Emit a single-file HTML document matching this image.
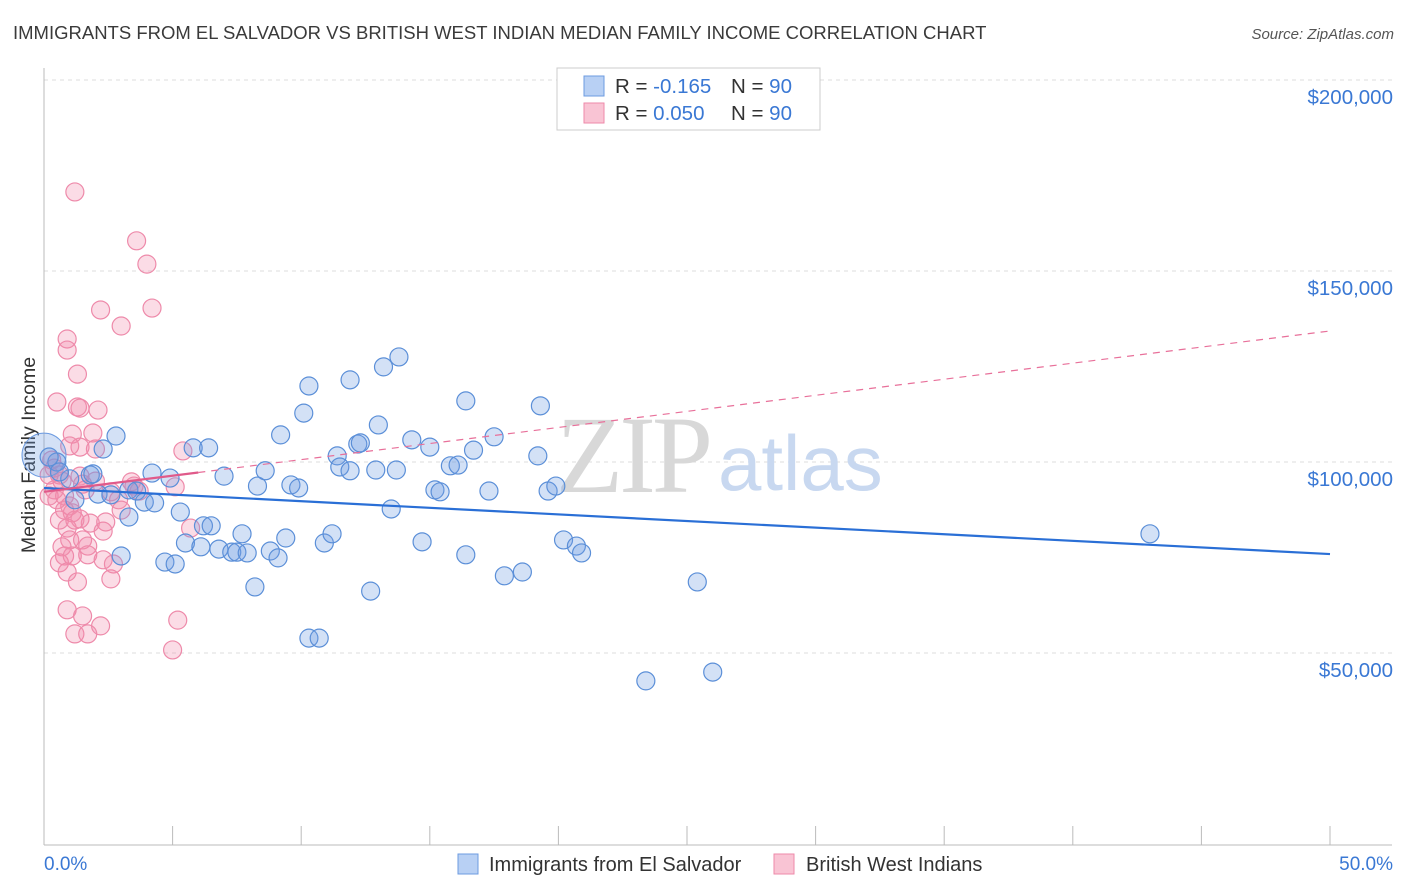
<!DOCTYPE html>
<html><head><meta charset="utf-8"><style>
body{margin:0;background:#fff;font-family:"Liberation Sans",sans-serif}
svg{display:block}
</style></head><body>
<svg id="chart" width="1406" height="892" viewBox="0 0 1406 892">
<text x="13" y="39" font-size="18.5" fill="#3a3a3a">IMMIGRANTS FROM EL SALVADOR VS BRITISH WEST INDIAN MEDIAN FAMILY INCOME CORRELATION CHART</text>
<text x="1394" y="39" font-size="15" font-style="italic" fill="#555" text-anchor="end">Source: ZipAtlas.com</text>
<g id="grid"></g>
<line x1="44" y1="68" x2="44" y2="845" stroke="#bbb"/>
<line x1="44" y1="845" x2="1392" y2="845" stroke="#bbb"/>
<g id="xticks"></g>
<text x="35" y="455" font-size="19.5" fill="#333" text-anchor="middle" transform="rotate(-90 35 455)">Median Family Income</text>
<text x="44" y="870" font-size="19" fill="#3a78d4">0.0%</text>
<text x="1393" y="870" font-size="19" fill="#3a78d4" text-anchor="end">50.0%</text>
<g>
<text x="556" y="492" font-size="110" font-family="Liberation Serif,serif" fill="#d8d8d8" letter-spacing="-4">ZIP</text>
<text x="718" y="490" font-size="78" fill="#c8d8f0">atlas</text>
</g>
<g id="pinkPts"></g>
<g id="bluePts"></g>
<g id="trends"></g>
<g>
<rect x="557" y="68" width="263" height="62" fill="#fff" stroke="#ccc"/>
<rect x="584" y="76" width="20" height="20" fill="#b8d0f4" stroke="#6d9be0"/>
<rect x="584" y="103" width="20" height="20" fill="#f9c4d4" stroke="#ee8aaa"/>
<text x="615" y="93" font-size="20.5" fill="#333">R = <tspan fill="#3a78d4">-0.165</tspan><tspan x="731">N = </tspan><tspan fill="#3a78d4">90</tspan></text>
<text x="615" y="120" font-size="20.5" fill="#333">R = <tspan fill="#3a78d4"> 0.050</tspan><tspan x="731">N = </tspan><tspan fill="#3a78d4">90</tspan></text>
</g>
<g>
<rect x="458" y="854" width="20" height="20" fill="#b8d0f4" stroke="#6d9be0"/>
<text x="489" y="871" font-size="20" fill="#333">Immigrants from El Salvador</text>
<rect x="774" y="854" width="20" height="20" fill="#f9c4d4" stroke="#ee8aaa"/>
<text x="806" y="871" font-size="20" fill="#333">British West Indians</text>
</g>
</svg>
<script>
const yTicks=[50000,100000,150000,200000];
const yTickLabels=["$50,000","$100,000","$150,000","$200,000"];
const bluePct=[2.8,2.3,1.8,1.9,1.0,0.5,0.6,0.2,1.2,2.1,2.6,3.3,3.3,3.0,3.6,3.9,4.3,4.2,4.9,4.7,5.1,5.3,5.5,5.8,6.4,6.1,6.2,6.5,7.0,6.8,7.3,7.5,7.7,7.9,8.2,8.3,8.6,8.8,9.1,9.2,9.4,9.6,9.9,10.1,10.3,10.3,10.7,10.9,11.2,11.4,11.5,11.9,11.9,12.2,12.3,12.7,12.9,13.0,13.2,13.5,13.7,13.8,14.3,14.7,15.0,15.2,15.4,15.8,16.1,16.4,16.4,16.7,17.3,17.5,17.9,18.6,19.2,19.3,19.6,19.9,20.2,20.7,20.9,23.4,25.4,26.0,43.0];
const blueVal=[106.8,103.4,96.6,96.9,95.6,100.0,97.4,101.3,90.1,91.6,91.4,92.7,85.6,75.4,92.4,89.5,89.3,97.1,95.8,73.8,73.3,86.9,78.8,103.7,103.7,77.8,83.3,83.3,96.3,77.2,76.4,76.4,81.2,76.2,67.3,93.7,97.7,76.7,74.9,107.1,80.1,94.0,93.2,112.8,119.9,53.9,53.9,78.8,81.2,101.6,98.7,97.7,121.5,104.7,105.0,66.2,97.9,109.7,124.9,87.7,97.9,127.5,105.8,79.1,103.9,92.7,92.2,99.0,99.2,116.0,75.7,103.1,92.4,106.6,70.2,71.2,101.6,114.7,92.4,93.7,79.6,78.0,76.2,42.7,68.6,45.0,81.2];
const pinkPct=[1.2,3.6,4.0,2.2,4.2,3.0,0.9,0.9,1.3,0.5,1.3,1.4,2.1,1.1,1.9,1.0,1.4,2.0,5.4,0.3,0.4,0.6,0.7,1.4,2.0,3.4,5.1,0.8,1.6,1.0,1.1,0.6,1.4,1.8,2.4,2.3,5.7,0.9,1.0,1.5,1.7,0.7,0.8,1.1,1.7,2.3,2.7,0.6,0.9,2.6,1.3,0.9,1.5,2.2,5.2,1.2,1.7,5.0,0.2,0.4,0.2,0.5,0.8,1.5,1.2,2.6,2.9,3.5,3.7,3.0];
const pinkVal=[170.7,157.9,151.8,139.8,140.3,135.6,132.2,129.3,123.0,115.7,114.4,114.1,113.6,107.3,107.6,104.2,103.9,103.4,102.9,100.5,98.4,96.6,95.0,96.3,95.0,94.8,93.5,91.1,92.7,88.5,86.7,84.8,85.1,84.0,84.3,81.9,82.7,82.7,79.6,79.6,78.0,77.8,75.4,75.4,75.7,74.4,73.3,73.6,71.2,69.4,68.6,61.3,59.7,57.1,58.6,55.0,55.0,50.8,96.6,92.7,91.1,90.1,87.4,94.2,84.8,92.2,90.1,93.7,92.4,87.4];
const blueTrend=[93.2,75.9];
const pinkTrend=[92.2,134.3];
const pinkSolidEnd=6;
const NS="http://www.w3.org/2000/svg";
const xS=p=>44+p*25.72;
const yS=v=>844-v/50000*191;
const yK=k=>yS(k*1000);
function mk(tag,attrs,parent){const e=document.createElementNS(NS,tag);for(const k in attrs)e.setAttribute(k,attrs[k]);parent.appendChild(e);return e;}
const grid=document.getElementById('grid');
yTicks.forEach((t,i)=>{
  const l=mk('line',{x1:44,x2:1392,y1:yS(t),y2:yS(t),stroke:'#ddd','stroke-dasharray':'4,4'},grid);
  
  
  const tx=mk('text',{x:1393,y:yS(t)+24,'font-size':20.5,fill:'#3a78d4','text-anchor':'end'},grid);
  tx.textContent=yTickLabels[i];
  
  
});
const xt=document.getElementById('xticks');
for(let i=0;i<=10;i++){
  const l=mk('line',{x1:xS(i*5),x2:xS(i*5),y1:826,y2:845,stroke:'#bbb'},xt);
  
  
}
function pts(px,pv,g,fill,stroke,name){
  px.forEach((p,i)=>{
    const c=mk('circle',{cx:xS(p),cy:yK(pv[i]),r:9,fill:fill,stroke:stroke,'stroke-width':1.2},g);
    
    
  });
}
pts(pinkPct,pinkVal,document.getElementById('pinkPts'),'rgba(243,140,172,0.3)','#ee8aaa','pink-point');
const bg=document.getElementById('bluePts');
const big=mk('circle',{cx:xS(0),cy:yK(101.8),r:22,fill:'rgba(110,155,225,0.3)',stroke:'#6d9be0'},bg);


pts(bluePct,blueVal,bg,'rgba(110,155,225,0.3)','#5b8fd8','blue-point');
const tr=document.getElementById('trends');
const bl=mk('line',{x1:xS(0),y1:yK(blueTrend[0]),x2:xS(50),y2:yK(blueTrend[1]),stroke:'#2a6fd6','stroke-width':2.2},tr);


const pv=p=>pinkTrend[0]+(pinkTrend[1]-pinkTrend[0])*p/50;
const pd=mk('line',{x1:xS(pinkSolidEnd),y1:yK(pv(pinkSolidEnd)),x2:xS(50),y2:yK(pinkTrend[1]),stroke:'#e8709a','stroke-width':1.2,'stroke-dasharray':'7,6'},tr);


const ps=mk('line',{x1:xS(0),y1:yK(pinkTrend[0]),x2:xS(pinkSolidEnd),y2:yK(pv(pinkSolidEnd)),stroke:'#e05a8a','stroke-width':2.2},tr);


</script>
</body></html>
